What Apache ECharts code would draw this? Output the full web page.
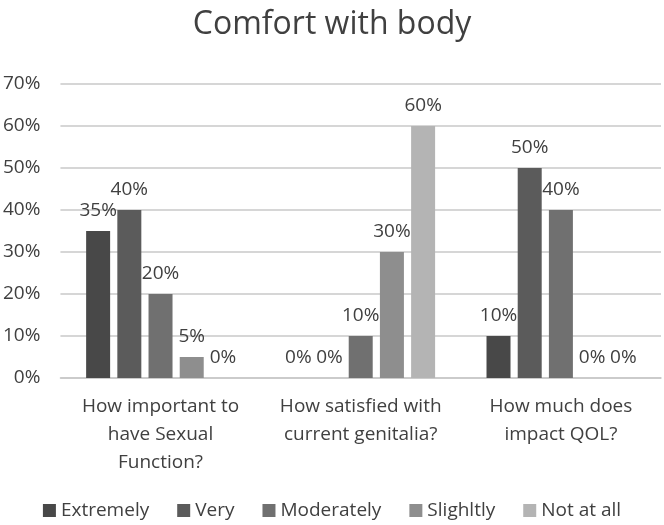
<!DOCTYPE html>
<html>
<head>
<meta charset="utf-8">
<script src="https://cdn.jsdelivr.net/npm/echarts@6/dist/echarts.min.js"></script>
<style>
  html, body { margin: 0; padding: 0; background: #fff; }
  #chart { width: 664px; height: 525px; }
</style>
</head>
<body>
<div id="chart"></div>
<script>
const categories = [
    'How important to\nhave Sexual\nFunction?',
    'How satisfied with\ncurrent genitalia?',
    'How much does\nimpact QOL?'
];
const seriesNames = ['Extremely', 'Very', 'Moderately', 'Slighltly', 'Not at all'];
const extremely = [35, 0, 10];
const very = [40, 0, 50];
const moderately = [20, 10, 40];
const slightly = [5, 30, 0];
const notAtAll = [0, 60, 0];
const yTicks = [0, 10, 20, 30, 40, 50, 60, 70];

const values = [extremely, very, moderately, slightly, notAtAll];
const colors = ['#484848', '#5b5b5b', '#707070', '#8e8e8e', '#b4b4b4'];
const textColor = '#404040';
const fontFamily = '"Open Sans", "Liberation Sans", sans-serif';

var myChart = echarts.init(document.getElementById('chart'));
var option = {
    animation: false,
    title: {
        text: 'Comfort with body',
        left: 'center',
        top: 4,
        textStyle: {
            fontFamily: fontFamily,
            fontSize: 32,
            fontWeight: 'normal',
            color: textColor,
        },
    },
    legend: {
        bottom: 0,
        left: 'center',
        itemWidth: 13,
        itemHeight: 13,
        itemGap: 28,
        icon: 'rect',
        textStyle: {
            fontFamily: fontFamily,
            fontSize: 19,
            color: textColor,
        },
        data: seriesNames,
    },
    grid: {
        left: 60,
        right: 3,
        top: 84,
        bottom: 147,
    },
    xAxis: {
        type: 'category',
        data: categories,
        axisTick: { show: false },
        axisLine: { lineStyle: { color: '#c8c8c8', width: 1.5 } },
        axisLabel: {
            fontFamily: fontFamily,
            fontSize: 19,
            color: textColor,
            lineHeight: 28,
            margin: 15,
            interval: 0,
        },
    },
    yAxis: {
        type: 'value',
        min: 0,
        max: 70,
        interval: 10,
        axisLine: { show: false },
        axisTick: { show: false },
        splitLine: { lineStyle: { color: '#c8c8c8', width: 1.5 } },
        axisLabel: {
            fontFamily: fontFamily,
            fontSize: 19,
            color: textColor,
            margin: 20,
            formatter: (v) => yTicks.includes(v) ? v + '%' : '',
        },
    },
    series: seriesNames.map((name, i) => ({
        name: name,
        type: 'bar',
        data: values[i],
        barWidth: 24,
        barGap: '30%',
        itemStyle: { color: colors[i] },
        label: {
            show: true,
            position: 'top',
            distance: 11,
            fontFamily: fontFamily,
            fontSize: 19,
            color: textColor,
            formatter: (p) => p.value + '%',
        },
    })),
};
myChart.setOption(option);
</script>
</body>
</html>
